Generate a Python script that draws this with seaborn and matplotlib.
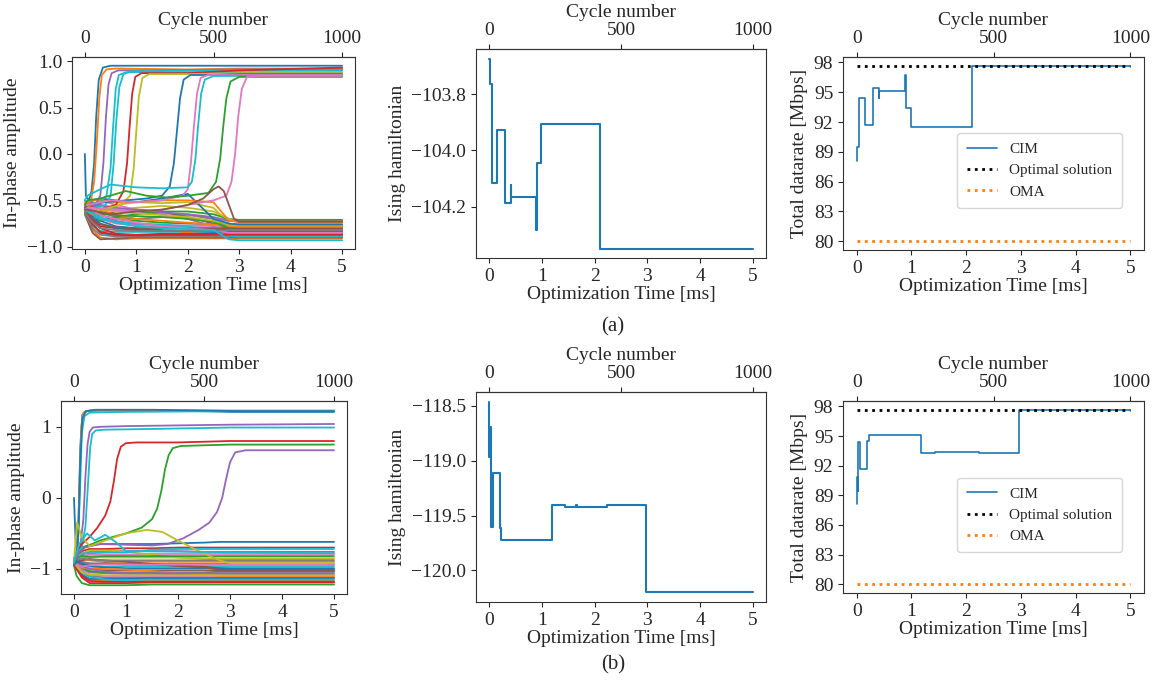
import numpy as np
import pandas as pd
import seaborn as sns
import matplotlib.pyplot as plt

sns.set_style('ticks')
plt.rcParams['font.family'] = ['Liberation Serif', 'DejaVu Serif']
plt.rcParams['xtick.direction'] = 'out'
plt.rcParams['ytick.direction'] = 'out'

CYCLES_PER_MS = 200
T_END = 5.0
TIME_TICKS = [0, 1, 2, 3, 4, 5]
CYCLE_TICKS = [0, 500, 1000]

# ---------- (a) in-phase amplitudes ----------
# shared time grid for the spins that stay negative
LOW_T = [0, 0.05, 0.15, 0.3, 0.6, 1.0, 1.5, 2.0, 2.5, 2.8, 3.0, 5.0]

AMP_A_LOW = [
    [-0.55, -0.62, -0.75, -0.85, -0.88, -0.88, -0.88, -0.88, -0.88, -0.88, -0.88, -0.88],
    [-0.60, -0.68, -0.82, -0.90, -0.92, -0.91, -0.91, -0.91, -0.91, -0.91, -0.91, -0.91],
    [-0.58, -0.60, -0.62, -0.66, -0.70, -0.72, -0.74, -0.75, -0.76, -0.76, -0.76, -0.76],
    [-0.62, -0.65, -0.70, -0.78, -0.80, -0.81, -0.80, -0.80, -0.80, -0.80, -0.80, -0.80],
    [-0.50, -0.55, -0.52, -0.55, -0.60, -0.62, -0.65, -0.70, -0.78, -0.85, -0.86, -0.86],
    [-0.65, -0.72, -0.85, -0.92, -0.91, -0.90, -0.90, -0.90, -0.90, -0.90, -0.90, -0.90],
    [-0.57, -0.58, -0.55, -0.50, -0.55, -0.60, -0.64, -0.66, -0.70, -0.72, -0.72, -0.72],
    [-0.60, -0.62, -0.60, -0.63, -0.68, -0.70, -0.68, -0.65, -0.70, -0.80, -0.82, -0.82],
    [-0.52, -0.56, -0.58, -0.60, -0.55, -0.52, -0.53, -0.52, -0.58, -0.75, -0.78, -0.78],
    [-0.63, -0.70, -0.78, -0.83, -0.84, -0.84, -0.84, -0.84, -0.84, -0.84, -0.84, -0.84],
    [-0.55, -0.60, -0.65, -0.72, -0.78, -0.80, -0.82, -0.83, -0.83, -0.83, -0.83, -0.83],
    [-0.60, -0.62, -0.58, -0.60, -0.66, -0.75, -0.80, -0.85, -0.87, -0.87, -0.87, -0.87],
    [-0.58, -0.63, -0.70, -0.72, -0.68, -0.65, -0.62, -0.62, -0.65, -0.70, -0.71, -0.71],
    [-0.62, -0.66, -0.72, -0.80, -0.86, -0.87, -0.86, -0.86, -0.86, -0.85, -0.85, -0.85],
    [-0.55, -0.57, -0.60, -0.65, -0.72, -0.76, -0.78, -0.79, -0.79, -0.79, -0.79, -0.79],
    [-0.60, -0.65, -0.68, -0.66, -0.62, -0.60, -0.62, -0.68, -0.75, -0.80, -0.81, -0.81],
    [-0.57, -0.60, -0.63, -0.70, -0.75, -0.77, -0.77, -0.77, -0.77, -0.77, -0.77, -0.77],
    [-0.64, -0.70, -0.80, -0.87, -0.89, -0.89, -0.89, -0.89, -0.89, -0.89, -0.89, -0.89],
    [-0.53, -0.56, -0.55, -0.58, -0.60, -0.58, -0.56, -0.58, -0.62, -0.70, -0.74, -0.74],
    [-0.60, -0.64, -0.66, -0.70, -0.73, -0.75, -0.76, -0.78, -0.83, -0.88, -0.89, -0.89],
    [-0.58, -0.62, -0.68, -0.75, -0.80, -0.82, -0.83, -0.83, -0.84, -0.84, -0.84, -0.84],
    [-0.61, -0.63, -0.65, -0.62, -0.65, -0.70, -0.72, -0.74, -0.76, -0.78, -0.78, -0.78],
    [-0.56, -0.60, -0.62, -0.64, -0.66, -0.67, -0.68, -0.70, -0.73, -0.80, -0.82, -0.82],
    [-0.62, -0.68, -0.76, -0.84, -0.87, -0.88, -0.87, -0.87, -0.87, -0.87, -0.87, -0.87],
    [-0.59, -0.60, -0.57, -0.55, -0.58, -0.60, -0.63, -0.65, -0.68, -0.72, -0.73, -0.73],
    [-0.60, -0.64, -0.70, -0.76, -0.79, -0.80, -0.80, -0.80, -0.81, -0.81, -0.81, -0.81],
    [-0.57, -0.59, -0.61, -0.66, -0.70, -0.74, -0.78, -0.80, -0.82, -0.85, -0.85, -0.85],
    [-0.63, -0.67, -0.74, -0.80, -0.82, -0.83, -0.83, -0.83, -0.83, -0.82, -0.82, -0.82],
    [-0.55, -0.58, -0.60, -0.60, -0.62, -0.64, -0.66, -0.68, -0.72, -0.76, -0.77, -0.77],
    [-0.60, -0.62, -0.64, -0.68, -0.74, -0.78, -0.80, -0.81, -0.82, -0.92, -0.93, -0.93],
    [-0.55, -0.55, -0.50, -0.48, -0.50, -0.52, -0.48, -0.43, -0.70, -0.75, -0.76, -0.76],
    [-0.50, -0.52, -0.50, -0.50, -0.52, -0.52, -0.50, -0.50, -0.52, -0.72, -0.73, -0.73],
]

# spins that flip to the positive branch (own time knots), colour index into tab10
AMP_A_UP_T = [
    [0, 0.02, 0.08, 0.13, 0.18, 0.22, 0.27, 0.35, 0.5, 1.0, 2.5, 5.0],
    [0, 0.05, 0.12, 0.18, 0.23, 0.28, 0.33, 0.42, 0.6, 2.0, 3.0, 5.0],
    [0, 0.05, 0.2, 0.3, 0.36, 0.41, 0.46, 0.52, 0.65, 1.0, 3.0, 5.0],
    [0, 0.05, 0.3, 0.42, 0.5, 0.55, 0.6, 0.66, 0.8, 1.5, 3.0, 5.0],
    [0, 0.05, 0.4, 0.5, 0.56, 0.61, 0.67, 0.75, 0.9, 3.0, 5.0],
    [0, 0.05, 0.3, 0.6, 0.75, 0.82, 0.87, 0.92, 0.98, 1.1, 2.0, 3.0, 5.0],
    [0, 0.05, 0.3, 0.7, 0.88, 0.95, 1.0, 1.05, 1.12, 1.25, 2.0, 3.0, 5.0],
    [0, 0.05, 0.4, 0.8, 1.2, 1.5, 1.65, 1.73, 1.79, 1.85, 1.92, 2.05, 2.5, 3.0, 5.0],
    [0, 0.05, 0.5, 1.0, 1.5, 1.9, 2.0, 2.06, 2.12, 2.18, 2.25, 2.4, 3.0, 5.0],
    [0, 0.05, 0.3, 0.5, 1.0, 1.5, 2.0, 2.08, 2.15, 2.2, 2.26, 2.33, 2.5, 3.0, 5.0],
    [0, 0.05, 0.3, 0.8, 1.2, 1.6, 2.0, 2.4, 2.55, 2.63, 2.69, 2.75, 2.83, 3.0, 5.0],
    [0, 0.05, 0.5, 1.0, 1.5, 2.0, 2.5, 2.75, 2.85, 2.92, 2.98, 3.05, 3.15, 3.4, 5.0],
    [0, 0.05, 0.5, 1.0, 1.5, 2.0, 2.3, 2.5, 2.6, 2.7, 2.8, 2.9, 3.0, 5.0],
]
AMP_A_UP_V = [
    [0.0, -0.45, -0.5, -0.4, -0.1, 0.4, 0.8, 0.93, 0.95, 0.95, 0.95, 0.95],
    [-0.55, -0.55, -0.5, -0.3, 0.1, 0.6, 0.85, 0.91, 0.92, 0.91, 0.92, 0.92],
    [-0.6, -0.58, -0.55, -0.45, -0.1, 0.4, 0.75, 0.87, 0.9, 0.9, 0.91, 0.91],
    [-0.6, -0.55, -0.52, -0.45, -0.15, 0.3, 0.7, 0.85, 0.88, 0.88, 0.88, 0.88],
    [-0.62, -0.6, -0.55, -0.45, -0.1, 0.35, 0.72, 0.86, 0.89, 0.9, 0.9],
    [-0.58, -0.56, -0.6, -0.55, -0.4, -0.1, 0.3, 0.65, 0.83, 0.87, 0.87, 0.9, 0.93],
    [-0.6, -0.57, -0.6, -0.55, -0.45, -0.15, 0.25, 0.62, 0.82, 0.86, 0.86, 0.87, 0.87],
    [-0.6, -0.55, -0.52, -0.5, -0.48, -0.45, -0.35, -0.1, 0.25, 0.6, 0.8, 0.85, 0.85, 0.86, 0.86],
    [-0.55, -0.55, -0.5, -0.52, -0.5, -0.45, -0.38, -0.1, 0.3, 0.65, 0.82, 0.85, 0.85, 0.85],
    [-0.5, -0.45, -0.38, -0.33, -0.36, -0.37, -0.36, -0.3, -0.05, 0.3, 0.65, 0.8, 0.84, 0.84, 0.84],
    [-0.55, -0.5, -0.48, -0.4, -0.45, -0.47, -0.45, -0.42, -0.3, -0.05, 0.3, 0.6, 0.78, 0.83, 0.83],
    [-0.6, -0.58, -0.6, -0.62, -0.6, -0.55, -0.5, -0.45, -0.3, 0.0, 0.4, 0.7, 0.83, 0.84, 0.84],
    [-0.6, -0.6, -0.65, -0.62, -0.6, -0.55, -0.48, -0.38, -0.35, -0.4, -0.55, -0.7, -0.73, -0.73],
]
AMP_A_UP_C = [0, 1, 4, 9, 9, 3, 8, 0, 6, 9, 2, 6, 5]

# ---------- (b) in-phase amplitudes ----------
AMP_B_LOW = [
    [-0.90, -0.80, -0.70, -0.66, -0.65, -0.65, -0.65, -0.64, -0.63, -0.62, -0.62, -0.62],
    [-0.85, -0.95, -1.10, -1.15, -1.16, -1.16, -1.16, -1.16, -1.16, -1.16, -1.16, -1.16],
    [-0.95, -1.10, -1.20, -1.23, -1.23, -1.23, -1.22, -1.22, -1.22, -1.22, -1.22, -1.22],
    [-0.90, -0.85, -0.75, -0.72, -0.72, -0.71, -0.71, -0.70, -0.70, -0.70, -0.70, -0.70],
    [-0.88, -0.92, -1.00, -1.05, -1.06, -1.07, -1.07, -1.08, -1.08, -1.08, -1.08, -1.08],
    [-0.92, -0.95, -0.98, -1.00, -1.02, -1.02, -1.02, -1.02, -1.02, -1.02, -1.02, -1.02],
    [-0.87, -0.85, -0.82, -0.80, -0.80, -0.80, -0.79, -0.79, -0.79, -0.79, -0.79, -0.79],
    [-0.90, -0.95, -1.05, -1.10, -1.12, -1.12, -1.12, -1.12, -1.12, -1.12, -1.12, -1.12],
    [-0.93, -0.90, -0.85, -0.83, -0.84, -0.84, -0.84, -0.84, -0.85, -0.85, -0.85, -0.85],
    [-0.86, -0.90, -0.95, -0.97, -0.97, -0.96, -0.96, -0.96, -0.96, -0.96, -0.96, -0.96],
    [-0.91, -0.98, -1.08, -1.14, -1.14, -1.14, -1.13, -1.13, -1.13, -1.13, -1.13, -1.13],
    [-0.89, -0.87, -0.86, -0.88, -0.90, -0.90, -0.90, -0.90, -0.90, -0.90, -0.90, -0.90],
    [-0.90, -0.93, -0.98, -1.03, -1.05, -1.05, -1.05, -1.05, -1.05, -1.04, -1.04, -1.04],
    [-0.95, -1.00, -1.10, -1.17, -1.18, -1.18, -1.18, -1.18, -1.18, -1.18, -1.18, -1.18],
    [-0.88, -0.86, -0.80, -0.76, -0.75, -0.75, -0.75, -0.75, -0.76, -0.76, -0.76, -0.76],
    [-0.90, -0.92, -0.94, -0.93, -0.92, -0.93, -0.94, -0.95, -0.97, -0.99, -1.00, -1.00],
    [-0.92, -0.96, -1.02, -1.08, -1.10, -1.10, -1.10, -1.10, -1.10, -1.10, -1.10, -1.10],
    [-0.87, -0.88, -0.90, -0.92, -0.93, -0.93, -0.93, -0.93, -0.93, -0.93, -0.93, -0.93],
    [-0.90, -0.85, -0.78, -0.74, -0.74, -0.76, -0.80, -0.84, -0.86, -0.87, -0.87, -0.87],
    [-0.94, -0.98, -1.05, -1.11, -1.15, -1.16, -1.15, -1.15, -1.15, -1.15, -1.15, -1.15],
    [-0.89, -0.90, -0.92, -0.96, -0.98, -0.99, -0.99, -0.99, -0.99, -0.99, -0.99, -0.99],
    [-0.91, -0.94, -0.98, -1.00, -1.00, -1.01, -1.03, -1.06, -1.08, -1.10, -1.10, -1.10],
    [-0.86, -0.84, -0.82, -0.83, -0.82, -0.82, -0.82, -0.82, -0.82, -0.82, -0.82, -0.82],
    [-0.93, -1.00, -1.12, -1.20, -1.20, -1.20, -1.19, -1.19, -1.19, -1.19, -1.19, -1.19],
    [-0.90, -0.92, -0.96, -1.00, -1.04, -1.06, -1.06, -1.06, -1.06, -1.06, -1.06, -1.06],
    [-0.88, -0.90, -0.88, -0.86, -0.88, -0.90, -0.93, -0.96, -0.98, -1.01, -1.02, -1.02],
    [-0.92, -0.94, -0.97, -0.95, -0.94, -0.94, -0.94, -0.94, -0.94, -0.94, -0.94, -0.94],
    [-0.90, -0.88, -0.85, -0.87, -0.88, -0.88, -0.88, -0.88, -0.88, -0.88, -0.88, -0.88],
    [-0.90, -0.96, -1.05, -1.08, -1.09, -1.09, -1.09, -1.09, -1.09, -1.09, -1.09, -1.09],
    [-0.87, -0.82, -0.78, -0.78, -0.77, -0.77, -0.73, -0.72, -0.72, -0.72, -0.72, -0.72],
]

AMP_B_UP_T = [
    [0, 0.03, 0.06, 0.09, 0.12, 0.16, 0.25, 0.5, 1.5, 2.5, 3.0, 5.0],
    [0, 0.04, 0.08, 0.11, 0.14, 0.18, 0.3, 1.0, 2.5, 5.0],
    [0, 0.04, 0.08, 0.12, 0.15, 0.2, 0.3, 1.0, 3.0, 5.0],
    [0, 0.05, 0.09, 0.12, 0.16, 0.22, 0.4, 1.5, 2.5, 3.2, 5.0],
    [0, 0.05, 0.12, 0.18, 0.22, 0.26, 0.3, 0.36, 0.5, 1.0, 3.0, 5.0],
    [0, 0.05, 0.15, 0.22, 0.27, 0.31, 0.35, 0.42, 0.6, 1.5, 3.0, 5.0],
    [0, 0.05, 0.15, 0.3, 0.45, 0.6, 0.7, 0.77, 0.83, 0.9, 1.0, 1.2, 2.0, 3.0, 5.0],
    [0, 0.05, 0.2, 0.5, 1.0, 1.3, 1.5, 1.6, 1.68, 1.75, 1.82, 1.9, 2.05, 2.5, 3.0, 5.0],
    [0, 0.05, 0.2, 0.5, 1.0, 1.5, 1.8, 2.1, 2.4, 2.6, 2.75, 2.85, 2.92, 3.0, 3.1, 3.3, 5.0],
    [0, 0.03, 0.06, 0.15, 0.3, 0.6, 1.0, 1.4, 1.7, 2.0, 2.4, 2.8, 3.0, 5.0],
    [0, 0.1, 0.25, 0.4, 0.6, 0.8, 1.0, 5.0],
]
AMP_B_UP_V = [
    [0.0, -0.6, -0.75, -0.2, 0.7, 1.17, 1.22, 1.23, 1.23, 1.22, 1.21, 1.21],
    [-0.9, -0.85, -0.5, 0.3, 1.0, 1.2, 1.23, 1.23, 1.23, 1.23],
    [-0.85, -0.8, -0.6, 0.2, 0.9, 1.15, 1.2, 1.21, 1.22, 1.22],
    [-0.95, -0.9, -0.4, 0.5, 1.1, 1.22, 1.24, 1.24, 1.23, 1.22, 1.22],
    [-0.9, -0.85, -0.7, -0.3, 0.3, 0.75, 0.93, 0.99, 1.0, 1.01, 1.03, 1.04],
    [-0.85, -0.8, -0.7, -0.4, 0.2, 0.7, 0.9, 0.95, 0.96, 0.97, 0.99, 0.99],
    [-0.9, -0.75, -0.65, -0.55, -0.42, -0.25, -0.05, 0.25, 0.55, 0.72, 0.77, 0.78, 0.78, 0.8, 0.8],
    [-0.9, -0.8, -0.7, -0.6, -0.5, -0.42, -0.3, -0.15, 0.1, 0.4, 0.6, 0.7, 0.73, 0.74, 0.75, 0.75],
    [-0.9, -0.8, -0.7, -0.65, -0.66, -0.67, -0.65, -0.57, -0.45, -0.35, -0.2, 0.0, 0.25, 0.5, 0.64, 0.67, 0.67],
    [-0.9, -0.6, -0.35, -0.55, -0.68, -0.6, -0.5, -0.45, -0.48, -0.6, -0.75, -0.88, -0.92, -0.92],
    [-0.9, -0.65, -0.5, -0.6, -0.52, -0.62, -0.75, -0.78],
]
AMP_B_UP_C = [0, 1, 9, 0, 4, 9, 3, 2, 4, 8, 9]

# ---------- Ising hamiltonian (step traces) ----------
H_A_T = [0.0, 0.008, 0.044, 0.152, 0.297, 0.405, 0.415, 0.885, 0.905, 0.986, 2.11, 5.0]
H_A_V = [-103.674, -103.765, -104.114, -103.927, -104.186, -104.121, -104.166,
         -104.284, -104.045, -103.907, -104.348, -104.348]
H_B_T = [0.0, 0.004, 0.02, 0.028, 0.063, 0.196, 0.228, 1.182, 1.435, 1.65, 1.665,
         2.238, 2.965, 5.0]
H_B_V = [-118.46, -118.968, -118.694, -119.60, -119.113, -119.615, -119.727, -119.402,
         -119.420, -119.408, -119.420, -119.402, -120.201, -120.201]

# ---------- Total datarate ----------
R_A_V = [88.12, 89.44, 94.41, 91.74, 95.43, 94.38, 95.09, 96.75, 93.43, 91.47, 97.63, 97.63]
R_B_V = [88.10, 90.90, 89.39, 94.39, 91.68, 94.45, 95.06, 93.27, 93.41, 93.36, 93.41,
         93.30, 97.66, 97.66]
OPT_RATE = 97.66
OMA_RATE = 80.0
RATE_TICKS = [80, 83, 86, 89, 92, 95, 98]

TAB = sns.color_palette('tab10')
W, H = 1158, 687
FS = 14


def add_ax(fig, l, t, r, b):
    return fig.add_axes([l / W, 1 - b / H, (r - l) / W, (b - t) / H])


def cycle_axis(ax):
    sec = ax.secondary_xaxis('top', functions=(lambda t: t * CYCLES_PER_MS,
                                               lambda c: c / CYCLES_PER_MS))
    sec.set_xticks(CYCLE_TICKS)
    sec.set_xlabel('Cycle number', fontsize=FS)
    sec.tick_params(labelsize=FS)


def finish(ax, ylabel):
    ax.set_xticks(TIME_TICKS)
    ax.set_xlabel('Optimization Time [ms]', fontsize=FS, labelpad=1)
    ax.set_ylabel(ylabel, fontsize=FS)
    ax.tick_params(labelsize=FS)
    for s in ax.spines.values():
        s.set_visible(True)
        s.set_color('#333333')
    cycle_axis(ax)


def draw_amp(ax, low, up_t, up_v, up_c):
    parts, pal = [], {}
    for k, vals in enumerate(low):
        key = f'low{k}'
        parts.append(pd.DataFrame({'t': LOW_T, 'amp': vals, 'spin': key}))
        pal[key] = TAB[k % 10]
    for k, (tt, vv) in enumerate(zip(up_t, up_v)):
        key = f'up{k}'
        parts.append(pd.DataFrame({'t': tt, 'amp': vv, 'spin': key}))
        pal[key] = TAB[up_c[k]]
    df = pd.concat(parts, ignore_index=True)
    sns.lineplot(data=df, x='t', y='amp', hue='spin', palette=pal, estimator=None,
                 sort=False, legend=False, lw=1.3, ax=ax)


def draw_ham(ax, tt, vv, ticks):
    sns.lineplot(x=tt, y=vv, drawstyle='steps-post', estimator=None, color=TAB[0],
                 lw=1.5, ax=ax)
    ax.set_yticks(ticks)
    ax.set_yticklabels([f'{v:.1f}'.replace('-', '\u2212') for v in ticks])


def draw_rate(ax, tt, vv, anchor):
    sns.lineplot(x=tt, y=vv, drawstyle='steps-post', estimator=None, color=TAB[0],
                 lw=1.2, label='CIM', ax=ax)
    ax.plot([0, T_END], [OPT_RATE, OPT_RATE], ls=':', lw=2, color='black',
            label='Optimal solution')
    ax.plot([0, T_END], [OMA_RATE, OMA_RATE], ls=':', lw=2, color=TAB[1], label='OMA')
    ax.set_yticks(RATE_TICKS)
    ax.legend(loc='upper left', bbox_to_anchor=anchor, fontsize=11, frameon=True,
              borderpad=0.6, labelspacing=0.5)


fig = plt.figure(figsize=(W / 100, H / 100), dpi=100)

ax = add_ax(fig, 72, 57, 355, 249)
draw_amp(ax, AMP_A_LOW, AMP_A_UP_T, AMP_A_UP_V, AMP_A_UP_C)
ax.set_yticks([-1.0, -0.5, 0.0, 0.5, 1.0])
ax.set_yticklabels(['\u22121.0', '\u22120.5', '0.0', '0.5', '1.0'])
finish(ax, 'In-phase amplitude')

ax = add_ax(fig, 476, 49, 766, 258)
draw_ham(ax, H_A_T, H_A_V, [-104.2, -104.0, -103.8])
finish(ax, 'Ising hamiltonian')

ax = add_ax(fig, 843, 57, 1144, 250)
draw_rate(ax, H_A_T, R_A_V, (0.355, 0.645))
finish(ax, 'Total datarate [Mbps]')

ax = add_ax(fig, 61, 401, 347, 594)
draw_amp(ax, AMP_B_LOW, AMP_B_UP_T, AMP_B_UP_V, AMP_B_UP_C)
ax.set_yticks([-1, 0, 1])
ax.set_yticklabels(['\u22121', '0', '1'])
finish(ax, 'In-phase amplitude')

ax = add_ax(fig, 476, 392, 766, 602)
draw_ham(ax, H_B_T, H_B_V, [-120.0, -119.5, -119.0, -118.5])
finish(ax, 'Ising hamiltonian')

ax = add_ax(fig, 843, 401, 1144, 593)
draw_rate(ax, H_B_T, R_B_V, (0.355, 0.64))
finish(ax, 'Total datarate [Mbps]')

fig.text(613 / W, 1 - 327 / H, '(a)', ha='center', va='center', fontsize=15)
fig.text(613 / W, 1 - 665 / H, '(b)', ha='center', va='center', fontsize=15)

fig.savefig('out.png', dpi=100)
